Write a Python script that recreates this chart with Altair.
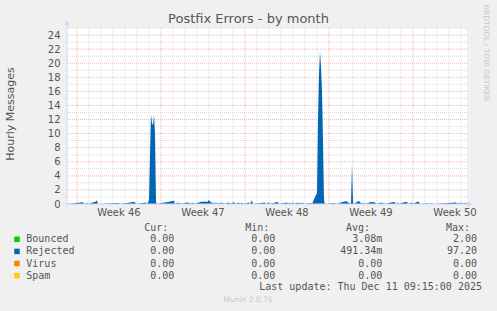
import altair as alt
import pandas as pd

# ---------------- data ----------------
hours = [0, 32, 34, 40, 42, 58, 60, 62, 104, 106, 132, 134, 136, 138, 158, 160,
         164, 166, 168, 170, 172, 174, 176, 178, 180,
         214, 216, 222, 224, 226, 228, 242, 244, 246, 248, 252, 254,
         270, 272, 274, 276, 278, 280, 282, 284, 286, 288, 290,
         292, 294, 296, 298, 300, 302, 308, 310, 312, 314, 324, 326, 334, 336,
         344, 346, 350, 352, 364, 366, 370, 372, 396, 398, 404, 406,
         420, 422, 424, 440, 442, 446, 448, 452, 454, 462, 464, 468, 470, 472, 474,
         488, 490,
         498, 500, 502, 504, 506, 508, 510, 512, 514, 516,
         536, 538, 556, 558, 560, 562, 564, 566, 568, 570, 572, 574,
         582, 584, 586, 588, 590, 592, 594, 596,
         608, 610, 612, 614, 616, 618, 630, 632, 634, 636, 652, 654, 656, 658,
         662, 664, 676, 678, 680, 682, 690, 692, 702, 704, 706, 722, 724, 730, 732,
         778, 780, 782, 784, 786, 788, 790, 792, 796, 800]
rejected = [0, .25, 0, .15, 0, .35, .55, 0, .15, 0, .3, .3, .25, 0, .2, 0,
            .5, 7.0, 12.8, 11.5, 11.2, 12.7, 10.0, .3, 0,
            .45, 0, .2, 0, .2, 0, .25, 0, .25, 0, .2, 0,
            .35, .3, .4, .3, .35, .3, .4, .6, .3, .35, 0,
            .3, 0, .25, 0, .25, 0, .2, 0, .2, 0, .2, 0, .3, 0,
            .2, 0, .2, 0, .2, 0, .55, 0, .2, 0, .25, 0,
            .3, .25, 0, .2, 0, .2, 0, .2, 0, .2, 0, .2, 0, .2, 0,
            .15, 0,
            1.3, 1.5, 12, 18.5, 21.6, 19.5, 16, 9, .5, 0,
            .15, 0, .4, .35, .35, .3, 0, .2, 0, 5.8, .3, 0,
            .4, .35, .35, 0, .2, 0, .2, 0,
            .3, .25, .3, .25, .25, 0, .2, 0, .2, 0, .3, .25, .25, 0,
            .2, 0, .3, .3, .3, 0, .2, 0, .35, .3, 0, .1, 0, .1, 0,
            .2, 0, .2, 0, .2, 0, .2, 0, .15, .15]

week_pos = [104, 272, 440, 608, 776]
week_labels = ["Week 46", "Week 47", "Week 48", "Week 49", "Week 50"]
x_major = [20, 188, 356, 524, 692]
x_minor = [h for h in range(20, 800, 24) if h not in x_major]
y_ticks = [0, 2, 4, 6, 8, 10, 12, 14, 16, 18, 20, 22, 24]
y_major = [2, 4, 6, 8, 10, 12, 14, 16, 18, 20, 22, 24]
y_minor = [1, 3, 5, 7, 9, 11, 13, 15, 17, 19, 21, 23, 25]

names = ["Bounced", "Rejected", "Virus", "Spam"]
colors = ["#00cc00", "#0066b3", "#ff8000", "#ffcc00"]
cur_v = ["0.00", "0.00", "0.00", "0.00"]
min_v = ["0.00", "0.00", "0.00", "0.00"]
avg_v = ["3.08m", "491.34m", "0.00\u00a0", "0.00\u00a0"]
max_v = ["2.00", "97.20", "0.00", "0.00"]

# ---------------- layout ----------------
W, H = 400, 176
XD = [0, 800]
YD = [0, 25]
FONT = "DejaVu Sans"
MONO = "DejaVu Sans Mono"
TXT = "#555555"
AXC = "#CFD6F8"

xs = alt.Scale(domain=XD, nice=False, zero=False)
ys = alt.Scale(domain=YD, nice=False, zero=False)
yax = alt.Axis(values=y_ticks, title=None, grid=False, ticks=False, tickSize=0,
               domain=False, labelPadding=7, labelFont=FONT, labelFontSize=10,
               labelColor=TXT)

series = pd.DataFrame({"h": hours, "v": rejected})

def vgrid(vals, color):
    return alt.Chart(pd.DataFrame({"g": vals})).mark_rule(
        color=color, strokeWidth=1, strokeDash=[1, 1]
    ).encode(x=alt.X("g:Q", scale=xs, axis=None))

def hgrid(vals, color):
    return alt.Chart(pd.DataFrame({"g": vals})).mark_rule(
        color=color, strokeWidth=1, strokeDash=[1, 1]
    ).encode(y=alt.Y("g:Q", scale=ys, axis=yax))

minor_c = "#dadada"
major_c = "#f0b4b4"

area = alt.Chart(series).mark_area(
    interpolate="linear", color="#0066b3"
).encode(
    x=alt.X("h:Q", scale=xs, axis=None),
    y=alt.Y("v:Q", scale=ys, axis=yax),
)

xaxis = alt.Chart(pd.DataFrame({"a": [0]})).mark_rule(color=AXC, strokeWidth=1).encode(
    x=alt.value(-4), x2=alt.value(401), y=alt.value(H))
yaxis = alt.Chart(pd.DataFrame({"a": [0]})).mark_rule(color=AXC, strokeWidth=1).encode(
    x=alt.value(0), y=alt.value(H + 3), y2=alt.value(-3))
xarrow = alt.Chart(pd.DataFrame({"a": [0]})).mark_point(
    shape="triangle-right", filled=True, color=AXC, size=30, opacity=1).encode(
    x=alt.value(403), y=alt.value(H))
yarrow = alt.Chart(pd.DataFrame({"a": [0]})).mark_point(
    shape="triangle-up", filled=True, color=AXC, size=30, opacity=1).encode(
    x=alt.value(0), y=alt.value(-5))

weeks = alt.Chart(pd.DataFrame({"h": week_pos, "t": week_labels})).mark_text(
    font=FONT, fontSize=10, color=TXT, align="center", baseline="middle").encode(
    x=alt.X("h:Q", scale=xs, axis=None), y=alt.value(H + 9), text="t:N")

def label(txt, x, y, **kw):
    return alt.Chart(pd.DataFrame({"t": [txt]})).mark_text(**kw).encode(
        x=alt.value(x), y=alt.value(y), text="t:N")

title = label("Postfix Errors - by month", 181.5, -9, font=FONT, fontSize=13,
              color=TXT, align="center", baseline="middle")
ytitle = label("Hourly Messages", -56, 86, font=FONT, fontSize=11, color=TXT,
               align="center", baseline="middle", angle=270)
rrd = label("RRDTOOL / TOBI OETIKER", 419, 25, font=FONT, fontSize=7.5,
            color="#c8c8c8", align="center", baseline="middle", angle=90)
munin = label("Munin 2.0.76", 181, 272, font=FONT, fontSize=7.5,
              color="#c8c8c8", align="center", baseline="middle")
upd = label("Last update: Thu Dec 11 09:15:00 2025", 415, 259, font=MONO,
            fontSize=10, color=TXT, align="right", baseline="middle")

hdr = alt.Chart(pd.DataFrame({"t": ["Cur:", "Min:", "Avg:", "Max:"],
                              "px": [101.3, 202.3, 303, 403]})).mark_text(
    font=MONO, fontSize=10, color=TXT, align="right", baseline="middle").encode(
    x=alt.X("px:Q", scale=None), y=alt.value(200.3), text="t:N")

rows = pd.DataFrame({"name": names, "c": colors, "cur": cur_v, "min": min_v,
                     "avg": avg_v, "max": max_v})
rows["ly"] = [211.3 + 12.1 * i for i in range(len(names))]

base = alt.Chart(rows)
squares = base.mark_square(size=30, filled=True, opacity=1).encode(
    x=alt.value(-50), y=alt.Y("ly:Q", scale=None),
    color=alt.Color("c:N", scale=None))
mk = dict(font=MONO, fontSize=10, color=TXT, baseline="middle")
namet = base.mark_text(align="left", **mk).encode(
    x=alt.value(-40.7), y=alt.Y("ly:Q", scale=None), text="name:N")
curt = base.mark_text(align="right", **mk).encode(
    x=alt.value(107.3), y=alt.Y("ly:Q", scale=None), text="cur:N")
mint = base.mark_text(align="right", **mk).encode(
    x=alt.value(208.3), y=alt.Y("ly:Q", scale=None), text="min:N")
avgt = base.mark_text(align="right", **mk).encode(
    x=alt.value(315.3), y=alt.Y("ly:Q", scale=None), text="avg:N")
maxt = base.mark_text(align="right", **mk).encode(
    x=alt.value(410), y=alt.Y("ly:Q", scale=None), text="max:N")

chart = alt.layer(
    vgrid(x_minor, minor_c), hgrid(y_minor, minor_c),
    vgrid(x_major, major_c), hgrid(y_major, major_c),
    area, xaxis, yaxis, xarrow, yarrow, weeks,
    title, ytitle, rrd, munin, upd, hdr, squares, namet, curt, mint, avgt, maxt,
).properties(
    width=W, height=H,
    autosize=alt.AutoSizeParams(type="none"),
    padding={"left": 67, "top": 28, "right": 30, "bottom": 107},
    background="#f0f0f0",
).configure_view(fill="white", stroke=None)

chart.save("out.html", embed_options={"renderer": "svg", "actions": False})
